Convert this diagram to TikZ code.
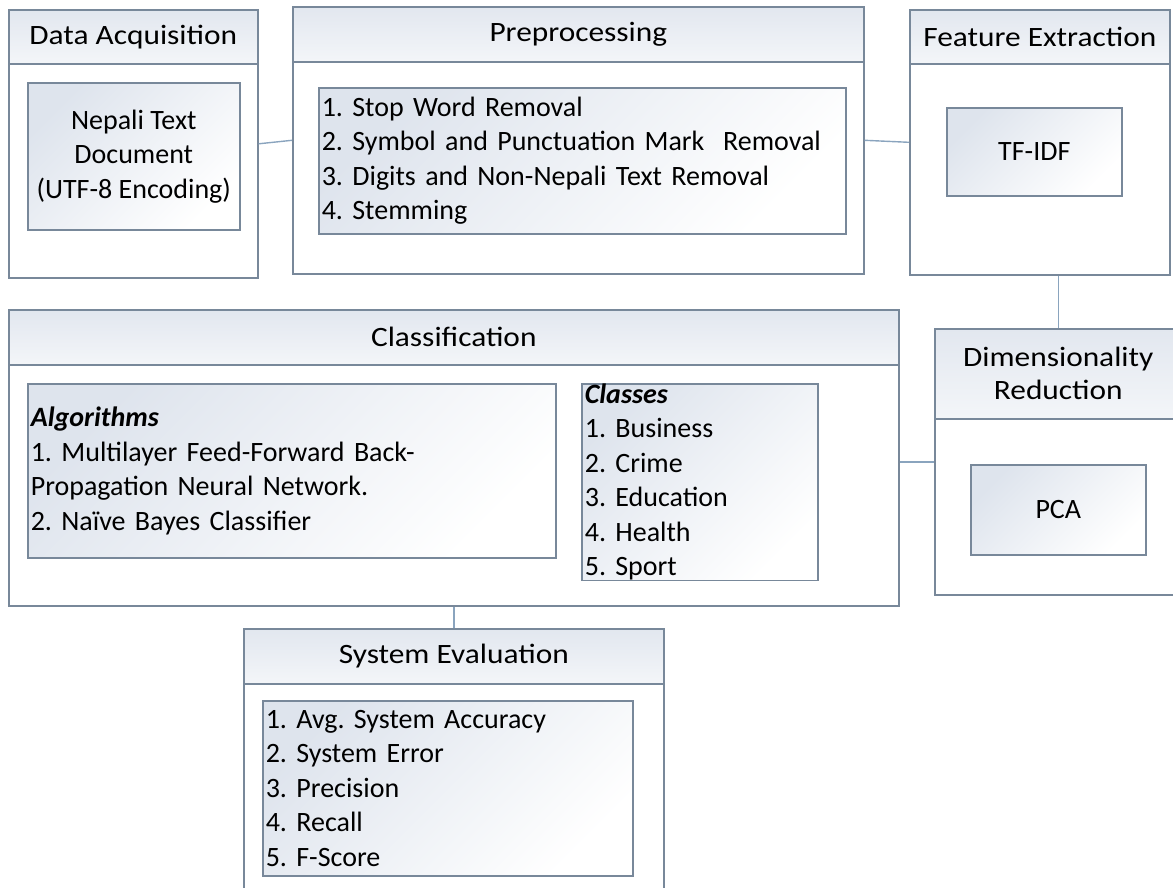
\documentclass[tikz,border=0pt]{standalone}
\usepackage{fontspec}
\setmainfont{Carlito}
\newfontfamily\headfont[FakeStretch=1.12]{Carlito}
\usetikzlibrary{positioning}

\definecolor{boxline}{RGB}{120,136,154}
\definecolor{linkline}{RGB}{138,164,190}
\definecolor{headfill}{RGB}{226,231,239}
\definecolor{innerfill}{RGB}{222,228,237}

\tikzset{
  panel/.style={draw=boxline, line width=1.6pt, fill=white, inner sep=0pt, anchor=north west},
  head/.style={draw=boxline, line width=1.6pt, top color=headfill, bottom color=white!60!headfill,
    inner sep=0pt, anchor=north west, align=center, font=\headfont\fontsize{28}{33}\selectfont},
  inbox/.style={draw=boxline, line width=1.6pt, top color=innerfill, bottom color=white, shading angle=45,
    inner sep=0pt, anchor=north west, align=center},
  listbox/.style={inbox, inner xsep=3pt, align=left},
  link/.style={draw=linkline, line width=1.4pt}
}

\begin{document}
\frenchspacing
\begin{tikzpicture}[x=1pt,y=-1pt,font=\fontsize{28}{34.5}\selectfont]
\useasboundingbox (0,0) rectangle (1173,887);
% Data acquisition
\node[panel, minimum width=249pt, minimum height=268pt] (da) at (8,9) {};
\node[head, minimum width=249pt, minimum height=54pt] (dahead) at (da.north west) {Data Acquisition};
\node[inbox, minimum width=212pt, minimum height=147pt] (dadoc) at (27,82) {Nepali Text\\Document\\(UTF-8 Encoding)};

% Preprocessing
\node[panel, minimum width=571pt, minimum height=267pt] (pre) at (292,6) {};
\node[head, minimum width=571pt, minimum height=55pt] (prehead) at (pre.north west) {Preprocessing};
\node[listbox, text width=521pt, minimum height=146pt] (prelist) at (318,87)
  {1. Stop Word Removal\\2. Symbol and Punctuation Mark\ \ Removal\\3. Digits and Non-Nepali Text Removal\\4. Stemming};

% Feature extraction
\node[panel, minimum width=260pt, minimum height=265pt] (fe) at (909,9) {};
\node[head, minimum width=260pt, minimum height=54pt] (fehead) at (fe.north west) {Feature Extraction};
\node[inbox, minimum width=175pt, minimum height=88pt] (tfidf) at (946,107) {TF-IDF};

% Dimensionality reduction
\node[panel, minimum width=247pt, minimum height=266pt] (dr) at (934,328) {};
\node[head, minimum width=247pt, minimum height=90pt] (drhead) at (dr.north west) {Dimensionality\\Reduction};
\node[inbox, minimum width=175pt, minimum height=90pt] (pca) at (970,464) {PCA};

% Classification
\node[panel, minimum width=890pt, minimum height=296pt] (cl) at (8,309) {};
\node[head, minimum width=890pt, minimum height=55pt] (clhead) at (cl.north west) {Classification};
\node[listbox, text width=522pt, minimum height=174pt] (algo) at (27,383)
  {\textbf{\textit{Algorithms}}\\1. Multilayer Feed-Forward Back-\\Propagation Neural Network.\\2. Naïve Bayes Classifier};
\node[listbox, text width=230pt, minimum height=194pt] (classes) at (581,383)
  {\textbf{\textit{Classes}}\\1. Business\\2. Crime\\3. Education\\4. Health\\5. Sport};

% System evaluation
\node[panel, minimum width=420pt, minimum height=280pt] (se) at (243,628) {};
\node[head, minimum width=420pt, minimum height=55pt] (sehead) at (se.north west) {System Evaluation};
\node[listbox, text width=364pt, minimum height=175pt] (selist) at (262,700)
  {1. Avg. System Accuracy\\2. System Error\\3. Precision\\4. Recall\\5. F-Score};

% connectors
\draw[link] (da.east) -- (pre.west);
\draw[link] (pre.east) -- (fe.west);
\draw[link] (fe.south -| dr.north) -- (dr.north);
\draw[link] (cl.east |- dr.west) -- (dr.west);
\draw[link] (se.north |- cl.south) -- (se.north);
\end{tikzpicture}
\end{document}
